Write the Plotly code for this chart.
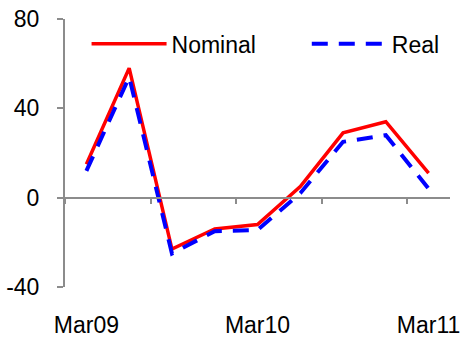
import plotly.graph_objects as go

categories = ["Mar09", "Jun09", "Sep09", "Dec09", "Mar10", "Jun10", "Sep10", "Dec10", "Mar11"]
nominal = [15, 58, -23, -14, -12, 5, 29, 34, 11]
real = [12, 54, -25, -15, -14.5, 2, 25, 28, 4]
x_label_idx = [0, 4, 8]
x_labels = ["Mar09", "Mar10", "Mar11"]
y_ticks = [-40, 0, 40, 80]
y_tick_labels = ["-40", "0", "40", "80"]

xs = list(range(len(categories)))
AX = "#8c8c8c"
FONT = dict(family="Liberation Sans, Arial, sans-serif", size=23, color="#000000")

fig = go.Figure()
fig.add_trace(go.Scatter(x=xs, y=nominal, name="Nominal", mode="lines",
                         line=dict(color="#FF0000", width=3.5), xaxis="x", yaxis="y",
                         legend="legend"))
fig.add_trace(go.Scatter(x=xs, y=real, name="Real", mode="lines",
                         line=dict(color="#0000FF", width=4, dash="16px,11px"),
                         xaxis="x2", yaxis="y", legend="legend2"))

rng = [-0.5, len(categories) - 0.5]
leg = dict(orientation="h", y=0.907, xanchor="left", yanchor="middle",
           itemwidth=75, font=FONT, bgcolor="rgba(0,0,0,0)")
fig.update_layout(
    width=462, height=339,
    margin=dict(l=65, r=12, t=19, b=52, autoexpand=False),
    paper_bgcolor="white", plot_bgcolor="white",
    font=FONT,
    showlegend=True,
    legend=dict(x=0.056, **leg),
    legend2=dict(x=0.628, **leg),
    xaxis=dict(range=rng, tickmode="array", tickvals=x_label_idx, ticktext=x_labels,
               ticks="", showline=False, showgrid=False, zeroline=False,
               ticklabelstandoff=22, automargin=False),
    xaxis2=dict(range=rng, overlaying="x", anchor="free", position=1/3,
                showline=True, linecolor=AX, linewidth=2,
                tickmode="array", tickvals=[-0.5, 1.5, 3.5, 5.5, 7.5],
                ticks="outside", ticklen=5, tickwidth=2, tickcolor=AX,
                showticklabels=False, showgrid=False, zeroline=False, automargin=False),
    yaxis=dict(range=[-40, 80], tickmode="array", tickvals=y_ticks, ticktext=y_tick_labels,
               ticks="outside", ticklen=6, tickwidth=2, tickcolor=AX,
               showline=True, linecolor=AX, linewidth=2,
               showgrid=False, zeroline=False, ticklabelstandoff=13, automargin=False),
)
fig.write_html("out.html", config={"displayModeBar": False},
               post_script="document.body.style.margin='0';")
